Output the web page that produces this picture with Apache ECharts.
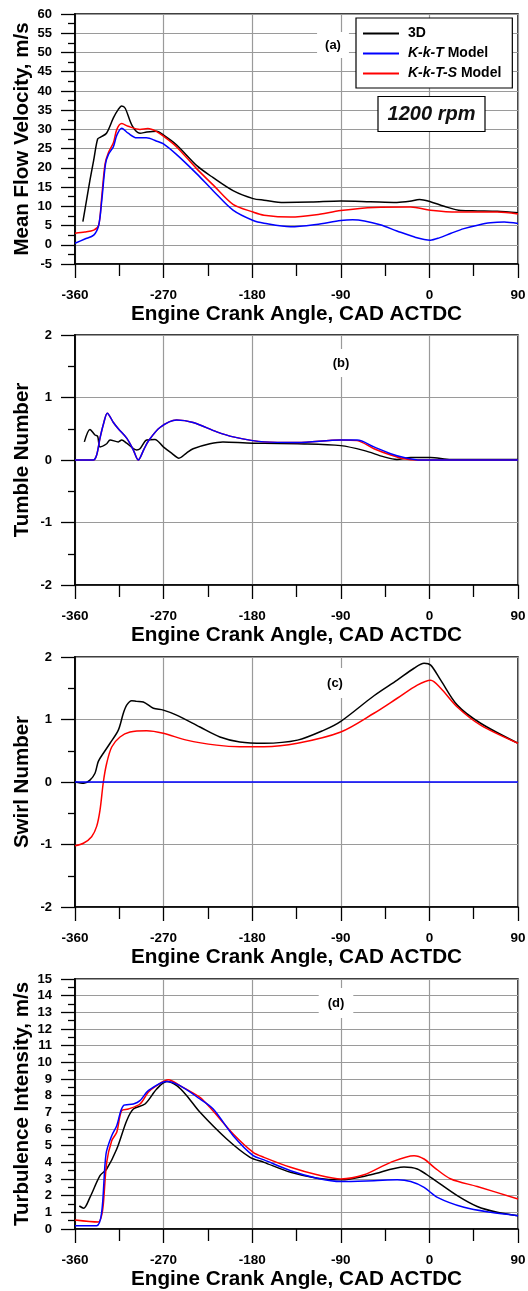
<!DOCTYPE html>
<html>
<head>
<meta charset="utf-8">
<script src="https://cdn.jsdelivr.net/npm/echarts@6/dist/echarts.min.js"></script>
<style>
html,body{margin:0;padding:0;background:#fff;}
#chart{width:528px;height:1291px;}
</style>
</head>
<body>
<div id="chart"></div>
<script>
// ---------- DATA ----------
const xTicks = [-360, -270, -180, -90, 0, 90];
const seriesNames = ['3D', 'K-k-T Model', 'K-k-T-S Model'];

// (a) Mean flow velocity, m/s
const a3dX = [-352, -348, -344.8, -341, -337, -334, -328, -321, -316, -312.6, -309, -302, -294, -287, -277, -270, -257, -236, -220, -199, -179, -168, -148, -120, -90, -60, -33, -20, -10, 1, 15, 32, 49, 69, 90];
const a3dY = [6, 12, 16.8, 22, 27.5, 28, 29, 33, 35.2, 36.1, 35.5, 31, 29, 29.3, 29.5, 28.5, 26, 20.5, 17.5, 14, 12, 11.6, 11, 11.1, 11.4, 11.2, 11, 11.3, 11.8, 11.2, 10, 8.9, 8.8, 8.7, 8.3];
const aRX = [-360, -350, -341, -336, -333, -329.5, -326, -321, -317.5, -312.5, -306, -294, -286, -277.5, -270.5, -257, -236.5, -219.5, -199.5, -179, -168, -141, -115, -90, -56, -19, 1, 28, 69, 90];
const aRY = [3, 3.3, 3.8, 5, 12, 21, 24, 26.5, 30, 31.5, 30.8, 30, 30.2, 29.5, 28.3, 25.5, 19.8, 15.5, 10.5, 8.5, 7.7, 7.2, 7.8, 8.9, 9.7, 9.8, 9, 8.5, 8.5, 8];
const aBX = [-360, -350, -341, -336, -333, -329, -326, -321, -317.5, -312.5, -306, -297.5, -287.5, -277.5, -270.5, -257, -236.5, -219.5, -199.5, -179, -168, -141, -115, -90, -78, -66, -50, -33, -15, 1, 10, 22, 35, 49, 62, 76, 90];
const aBY = [0.4, 1.5, 2.5, 5, 11, 21, 23.5, 25.5, 28.5, 30.3, 29, 27.8, 27.8, 27, 26.3, 23.5, 18.5, 14, 9, 6.3, 5.6, 4.7, 5.3, 6.3, 6.5, 6.2, 5.2, 3.6, 2.0, 1.2, 1.8, 3, 4.2, 5.1, 5.7, 5.9, 5.5];

// (b) Tumble number
const b3dX = [-350.5, -344.8, -339.7, -337, -334.6, -327.8, -324.4, -316, -312.6, -307.5, -297.4, -294, -287.2, -278.8, -270.3, -261.9, -254.4, -246.8, -240, -223, -209.7, -179.3, -168, -134, -90, -66, -46, -33, -19, 1, 22, 50, 90];
const b3dY = [0.29, 0.49, 0.4, 0.38, 0.21, 0.26, 0.32, 0.29, 0.32, 0.27, 0.16, 0.18, 0.32, 0.33, 0.21, 0.11, 0.03, 0.11, 0.18, 0.26, 0.29, 0.27, 0.27, 0.26, 0.23, 0.15, 0.05, 0.01, 0.04, 0.04, 0.01, 0.01, 0.01];
const bRX = [-360, -341.4, -338, -334.6, -331, -327.2, -321, -316, -307.5, -301, -295.8, -290, -285.6, -273.7, -256.8, -240, -216, -199.3, -168, -134, -90, -73.4, -56.3, -39.3, -25.8, -12, 90];
const bRY = [0, 0, 0.08, 0.35, 0.58, 0.75, 0.6, 0.5, 0.35, 0.17, 0, 0.17, 0.3, 0.52, 0.64, 0.6, 0.45, 0.37, 0.29, 0.28, 0.32, 0.31, 0.18, 0.08, 0.02, 0, 0];
const bBX = [-360, -341.4, -338, -334.6, -331, -327.2, -321, -316, -307.5, -301, -295.8, -290, -285.6, -273.7, -256.8, -240, -216, -199.3, -168, -134, -90, -73.4, -56.3, -39.3, -25.8, -9, 90];
const bBY = [0, 0, 0.08, 0.35, 0.58, 0.75, 0.6, 0.5, 0.35, 0.17, 0, 0.17, 0.3, 0.52, 0.64, 0.6, 0.45, 0.37, 0.29, 0.28, 0.32, 0.32, 0.21, 0.1, 0.04, 0, 0];

// (c) Swirl number
const c3dX = [-360, -351, -344.8, -339.7, -336.3, -331.2, -324.4, -316, -310.9, -307.5, -302.4, -297.4, -290.6, -280.4, -270.3, -256.8, -233.1, -212.8, -192.5, -168, -134, -107, -90, -56.3, -32.7, -15.6, -5.4, 1.3, 11.5, 28.3, 52, 90];
const c3dY = [0, -0.02, 0.03, 0.14, 0.33, 0.46, 0.62, 0.83, 1.1, 1.23, 1.3, 1.29, 1.28, 1.18, 1.15, 1.07, 0.88, 0.72, 0.64, 0.62, 0.67, 0.83, 0.97, 1.38, 1.63, 1.82, 1.9, 1.87, 1.63, 1.23, 0.94, 0.62];
const cRX = [-360, -351.5, -343.1, -338, -334.6, -331.2, -327.8, -322.7, -314.3, -304.1, -287.2, -270.3, -246.6, -216.2, -192.5, -168, -134, -90, -56.3, -32.7, -12.3, 1.3, 11.5, 28.3, 52, 90];
const cRY = [-1.02, -0.98, -0.875, -0.71, -0.45, 0, 0.3, 0.56, 0.72, 0.8, 0.82, 0.78, 0.67, 0.59, 0.565, 0.565, 0.62, 0.8, 1.1, 1.34, 1.55, 1.63, 1.5, 1.2, 0.91, 0.62];
const cBX = [-360, 90];
const cBY = [0, 0];

// (d) Turbulence intensity, m/s
const d3dX = [-355.6, -351.2, -344.8, -334.6, -327.8, -317.6, -307.5, -300.7, -288.9, -277, -266.8, -256.6, -246.5, -233, -205.9, -182.2, -168, -141, -114, -90, -59.6, -25.8, -12.3, 1.3, 28.3, 48.6, 69, 90];
const d3dY = [1.38, 1.25, 1.9, 3.2, 3.6, 4.8, 6.5, 7.2, 7.5, 8.4, 8.85, 8.6, 8.0, 7.0, 5.4, 4.3, 4.0, 3.4, 3.05, 2.95, 3.25, 3.72, 3.6, 3.1, 2.0, 1.35, 1.0, 0.8];
const dRX = [-360, -336.3, -333, -331.2, -327.8, -322.7, -317.6, -312.6, -305.8, -294, -285.6, -277.1, -265.2, -253.4, -233.1, -223, -199.3, -179, -168, -141, -114, -90, -66.4, -39.3, -15.6, -5.4, 4.8, 21.8, 48.6, 90];
const dRY = [0.54, 0.42, 0.8, 1.5, 4.0, 5.3, 5.8, 7.1, 7.2, 7.5, 8.2, 8.6, 8.95, 8.6, 7.9, 7.3, 5.7, 4.6, 4.3, 3.7, 3.25, 3.0, 3.25, 4.0, 4.4, 4.2, 3.7, 3.0, 2.55, 1.8];
const dBX = [-360, -338, -332.9, -328.5, -322.7, -317.6, -310.9, -300.7, -294, -285.6, -266.8, -253.4, -233.1, -219.6, -199.3, -179, -168, -141, -114, -90, -56.3, -32.7, -19, -5.4, 8.1, 35.1, 62.2, 90];
const dBY = [0.2, 0.2, 1.0, 4.5, 5.6, 6.2, 7.4, 7.5, 7.7, 8.3, 8.85, 8.6, 7.8, 7.2, 5.6, 4.4, 4.15, 3.5, 3.05, 2.85, 2.9, 2.95, 2.85, 2.5, 1.9, 1.3, 1.0, 0.8];

const panelLabels = ['(a)', '(b)', '(c)', '(d)'];
const yTitles = ['Mean Flow Velocity, m/s', 'Tumble Number', 'Swirl Number', 'Turbulence Intensity, m/s'];
const xTitle = 'Engine Crank Angle, CAD ACTDC';
const rpmText = '1200 rpm';

// ---------- BUILD ----------
const FONT = 'Arial, "Liberation Sans", Helvetica, sans-serif';
const zip = (xs, ys) => xs.map((x, i) => [x, ys[i]]);

const panels = [
  { top: 14, min: -5, max: 60, interval: 5, data: [zip(a3dX, a3dY), zip(aRX, aRY), zip(aBX, aBY)] },
  { top: 335, min: -2, max: 2, interval: 1, data: [zip(b3dX, b3dY), zip(bRX, bRY), zip(bBX, bBY)] },
  { top: 657, min: -2, max: 2, interval: 1, data: [zip(c3dX, c3dY), zip(cRX, cRY), zip(cBX, cBY)] },
  { top: 979, min: 0, max: 15, interval: 1, data: [zip(d3dX, d3dY), zip(dRX, dRY), zip(dBX, dBY)] }
];

const grid = [], xAxis = [], yAxis = [], series = [];
const colors = { '3D': '#000000', 'K-k-T Model': '#0000ff', 'K-k-T-S Model': '#ff0000' };
const drawOrder = ['3D', 'K-k-T-S Model', 'K-k-T Model'];

panels.forEach((p, i) => {
  grid.push({ left: 75, width: 443, top: p.top, height: 250, show: true, borderColor: '#000', borderWidth: 1.5, backgroundColor: 'transparent', containLabel: false, outerBoundsMode: 'none' });
  xAxis.push({
    type: 'value', gridIndex: i, min: -360, max: 90, interval: 90,
    name: xTitle, nameLocation: 'middle', nameGap: 40, nameMoveOverlap: false,
    nameTextStyle: { fontFamily: FONT, fontWeight: 'bold', fontSize: 20.7, color: '#000' },
    axisLine: { show: true, onZero: false, lineStyle: { color: '#000', width: 1.6 } },
    axisTick: { show: true, inside: false, length: 14, lineStyle: { color: '#000', width: 1.3 } },
    minorTick: { show: true, splitNumber: 2, length: 12, lineStyle: { color: '#000', width: 1.3 } },
    axisLabel: { margin: 24, fontFamily: FONT, fontWeight: 'bold', fontSize: 13.5, color: '#000', hideOverlap: false },
    splitLine: { show: true, lineStyle: { color: '#9a9a9a', width: 1.2 } },
    minorSplitLine: { show: false }
  });
  yAxis.push({
    type: 'value', gridIndex: i, min: p.min, max: p.max, interval: p.interval,
    name: yTitles[i], nameLocation: 'middle', nameGap: 42, nameMoveOverlap: false,
    nameTextStyle: { fontFamily: FONT, fontWeight: 'bold', fontSize: 20.5, color: '#000' },
    axisLine: { show: true, onZero: false, lineStyle: { color: '#000', width: 1.8 } },
    axisTick: { show: true, inside: false, length: 14, lineStyle: { color: '#000', width: 1.3 } },
    minorTick: { show: true, splitNumber: 2, length: 7, lineStyle: { color: '#000', width: 1.3 } },
    axisLabel: { margin: 23, fontFamily: FONT, fontWeight: 'bold', fontSize: 13, color: '#000', hideOverlap: false },
    splitLine: { show: true, lineStyle: { color: '#9a9a9a', width: 1.2 } },
    minorSplitLine: { show: false }
  });
  drawOrder.forEach((nm, k) => {
    const dataIdx = nm === '3D' ? 0 : (nm === 'K-k-T-S Model' ? 1 : 2);
    series.push({
      name: nm, type: 'line', xAxisIndex: i, yAxisIndex: i,
      data: p.data[dataIdx], showSymbol: false, symbol: 'none', smooth: 0.3,
      lineStyle: { color: colors[nm], width: 1.5 }, itemStyle: { color: colors[nm] },
      z: 2 + k, animation: false
    });
  });
});

const labelPos = [[333, 45], [341, 363], [335, 683], [336, 1003]];
const labelPad = [[6, 8], [7, 4], [8, 4], [8, 9]];
const titles = panelLabels.map((t, i) => ({
  text: t, left: labelPos[i][0] - labelPad[i][1], top: labelPos[i][1] - 7 - labelPad[i][0], textAlign: 'center',
  backgroundColor: '#fff', padding: labelPad[i],
  textStyle: { fontFamily: FONT, fontWeight: 'bold', fontSize: 13, color: '#000', lineHeight: 14 }
}));
titles.push({
  text: rpmText, left: 431.5 - 10, top: 96, textAlign: 'center',
  backgroundColor: '#fff', borderColor: '#000', borderWidth: 1.2, padding: [8, 10],
  textStyle: { fontFamily: FONT, fontWeight: 'bold', fontStyle: 'italic', fontSize: 20, color: '#111', lineHeight: 20 }
});

const legendFmt = {
  '3D': '{b|3D}',
  'K-k-T Model': '{i|K-k-T} {b|Model}',
  'K-k-T-S Model': '{i|K-k-T-S} {b|Model}'
};

const option = {
  animation: false,
  backgroundColor: '#fff',
  title: titles,
  grid, xAxis, yAxis, series,
  legend: {
    data: seriesNames, orient: 'vertical', left: 356, top: 18,
    backgroundColor: '#fff', borderColor: '#000', borderWidth: 1.2,
    padding: [8, 11, 7, 7], itemGap: 5, itemWidth: 36, itemHeight: 2,
    icon: 'rect',
    formatter: (n) => legendFmt[n],
    textStyle: {
      color: '#000', fontFamily: FONT, fontSize: 14, lineHeight: 15,
      padding: [0, 0, 0, 4],
      rich: {
        b: { fontFamily: FONT, fontWeight: 'bold', fontSize: 14, color: '#000' },
        i: { fontFamily: FONT, fontWeight: 'bold', fontStyle: 'italic', fontSize: 14, color: '#000' }
      }
    }
  }
};

const chart = echarts.init(document.getElementById('chart'), null, { renderer: 'canvas' });
chart.setOption(option);
</script>
</body>
</html>
